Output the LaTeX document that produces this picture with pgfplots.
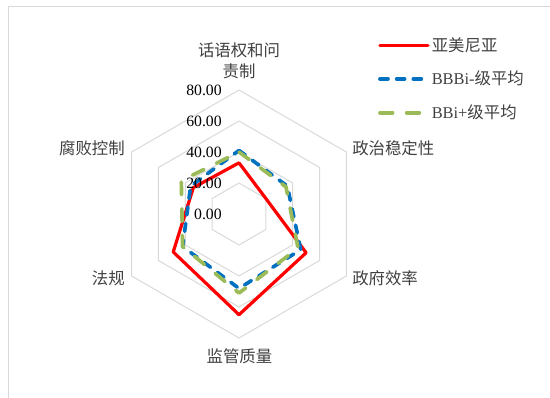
\documentclass[border=0pt]{standalone}
\usepackage{pgfplots}
\pgfplotsset{compat=1.18}
\usepgfplotslibrary{polar}
\usepackage{fontspec}
\setmainfont{Liberation Serif}
\newfontfamily\cjk{Noto Sans CJK SC}
\definecolor{serred}{HTML}{FF0000}
\definecolor{serblue}{HTML}{0070C0}
\definecolor{sergreen}{HTML}{9BBB59}
\definecolor{gridgray}{HTML}{D9D9D9}
\definecolor{txt}{HTML}{404040}
\begin{document}
\begin{tikzpicture}
\path[use as bounding box] (0pt,0pt) rectangle (412.5pt,-298.5pt);
\draw[gridgray, line width=0.75pt] (6pt,-298.5pt) -- (6pt,-5.25pt) -- (412.5pt,-5.25pt);
\begin{polaraxis}[
  at={(179.25pt,-160.5pt)}, anchor=center,
  scale only axis, width=186pt, height=186pt,
  xmin=0, xmax=360, ymin=0, ymax=80,
  hide axis, clip=false,
  legend style={at={(1.06,1.222)}, anchor=north west, draw=none, fill=none,
    inner sep=0pt, row sep=10.5pt, font=\fontsize{12.3}{14}\selectfont,
    nodes={inner sep=1.5pt, text=txt}},
  legend cell align=left,
  legend image code/.code={\draw[#1] (0pt,0pt) -- (36pt,0pt);},
]
% hexagonal grid
\addplot[gridgray, line width=0.75pt, forget plot] coordinates {(90,20) (30,20) (330,20) (270,20) (210,20) (150,20) (90,20)};
\addplot[gridgray, line width=0.75pt, forget plot] coordinates {(90,40) (30,40) (330,40) (270,40) (210,40) (150,40) (90,40)};
\addplot[gridgray, line width=0.75pt, forget plot] coordinates {(90,60) (30,60) (330,60) (270,60) (210,60) (150,60) (90,60)};
\addplot[gridgray, line width=0.75pt, forget plot] coordinates {(90,80) (30,80) (330,80) (270,80) (210,80) (150,80) (90,80)};
% series
\addplot[serred, line width=2.4pt, line join=round, line cap=round] coordinates {(90,33) (30,20) (330,50) (270,65) (210,49) (150,34) (90,33)};
\addlegendentry{{\cjk 亚美尼亚}}
\addplot[serblue, line width=2.75pt, line cap=round, line join=round, dash pattern=on 6pt off 6.5pt] coordinates {(90,41) (30,36) (330,46) (270,48) (210,42) (150,36) (90,41)};
\addlegendentry{BBBi-{\cjk 级平均}}
\addplot[sergreen, line width=2.75pt, line cap=round, line join=round, dash pattern=on 9.5pt off 10.5pt] coordinates {(90,40) (30,35) (330,44) (270,51) (210,42) (150,43) (90,40)};
\addlegendentry{BBi+{\cjk 级平均}}
% radial tick labels
\foreach \v/\l in {0/0.00,20/20.00,40/40.00,60/60.00,80/80.00}{
  \edef\temp{\noexpand\node[anchor=east, inner sep=0pt, font=\noexpand\fontsize{11.8}{14}\noexpand\selectfont, text=black, xshift=-12.75pt] at (axis cs:90,\v) {\l};}
  \temp
}
\end{polaraxis}
% category labels
\begin{scope}[every node/.style={inner sep=0pt, text=txt, font=\cjk\fontsize{12.3}{15.75}\selectfont}]
\node[align=center] at (179.25pt,-45.4pt) {话语权和问\\责制};
\node[anchor=west] at (264pt,-111pt) {政治稳定性};
\node[anchor=west] at (264pt,-208.5pt) {政府效率};
\node[anchor=center] at (179.6pt,-267pt) {监管质量};
\node[anchor=east] at (93.75pt,-208.5pt) {法规};
\node[anchor=east] at (93.75pt,-111pt) {腐败控制};
\end{scope}
\end{tikzpicture}
\end{document}
